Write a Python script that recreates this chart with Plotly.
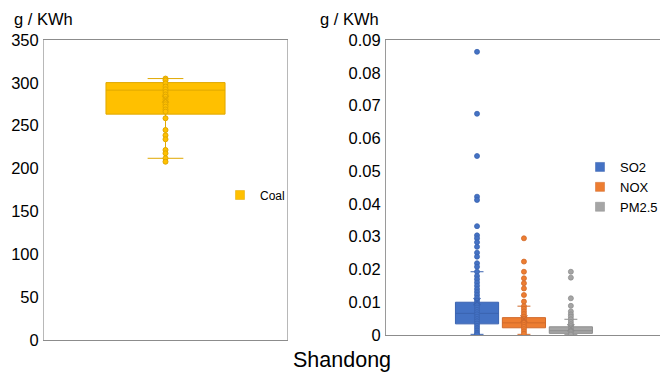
import plotly.graph_objects as go

# ---- Coal (g / KWh) ----
coal_points = [305, 303, 299.5, 295.6, 292.5, 289.4, 286.5, 283.9, 280.8, 277.7,
               275, 272.2, 269, 266.4, 258.7, 245, 238.8, 234.2, 221.7, 217.8, 212, 208]
coal_stats = dict(q1=263.5, median=291.5, q3=300.3, lowerfence=212, upperfence=305, mean=281)

# ---- Pollutants (g / KWh) ----
pollutants = ["SO2", "NOX", "PM2.5"]
so2_points = [0.0864, 0.0675, 0.0546, 0.0422, 0.0412, 0.0332, 0.0304, 0.0295, 0.0283,
              0.0269, 0.0251, 0.0239, 0.0219, 0.0208, 0.0193, 0.0180, 0.0170, 0.0160,
              0.0150, 0.0140, 0.0131, 0.0122, 0.0113, 0.0105, 0.0098, 0.0091, 0.0084,
              0.0077, 0.0070, 0.0063, 0.0056, 0.0049, 0.0042, 0.0035, 0.0028, 0.0021,
              0.0014, 0.0007, 0.0002]
nox_points = [0.0295, 0.0224, 0.0193, 0.0173, 0.0158, 0.0142, 0.0122, 0.0102, 0.0088,
              0.0080, 0.0072, 0.0064, 0.0056, 0.0049, 0.0043, 0.0037, 0.0031, 0.0025,
              0.0018, 0.0011, 0.0004]
pm25_points = [0.0193, 0.0175, 0.0112, 0.0089, 0.0072, 0.0063, 0.0056, 0.0048, 0.0040,
               0.0033, 0.0027, 0.0021, 0.0015, 0.0010, 0.0005, 0.0001]
pollutant_points = [so2_points, nox_points, pm25_points]
q1 = [0.0034, 0.0022, 0.0005]
median = [0.0066, 0.0037, 0.0013]
q3 = [0.0100, 0.0053, 0.0025]
lowerfence = [0.0002, 0.0002, 0.0001]
upperfence = [0.0193, 0.0088, 0.0048]
means = [0.0102, 0.0049, 0.0022]

left_ticks = [0, 50, 100, 150, 200, 250, 300, 350]
right_ticks = [0, 0.01, 0.02, 0.03, 0.04, 0.05, 0.06, 0.07, 0.08, 0.09]
right_ticktext = ["0", "0.01", "0.02", "0.03", "0.04", "0.05", "0.06", "0.07", "0.08", "0.09"]

fills = {"Coal": "#FFC000", "SO2": "#4472C4", "NOX": "#ED7D31", "PM2.5": "#A5A5A5"}
edges = {"Coal": "#E0A800", "SO2": "#3A63B0", "NOX": "#D0692A", "PM2.5": "#8E8E8E"}

FONT = "Liberation Sans, Arial, sans-serif"
fig = go.Figure()

# Coal box, points and mean
fig.add_trace(go.Box(
    x=[0.5], q1=[coal_stats["q1"]], median=[coal_stats["median"]], q3=[coal_stats["q3"]],
    lowerfence=[coal_stats["lowerfence"]], upperfence=[coal_stats["upperfence"]],
    width=0.49, whiskerwidth=0.3, fillcolor=fills["Coal"],
    line=dict(color=edges["Coal"], width=1), showlegend=False, hoverinfo="skip",
    xaxis="x", yaxis="y"))
fig.add_trace(go.Scatter(
    x=[0.5] * len(coal_points), y=coal_points, mode="markers",
    marker=dict(size=5, color=fills["Coal"], line=dict(color=edges["Coal"], width=1)),
    showlegend=False, xaxis="x", yaxis="y"))
fig.add_trace(go.Scatter(
    x=[0.5], y=[coal_stats["mean"]], mode="markers",
    marker=dict(symbol="x-thin-open", size=7, color=edges["Coal"],
                line=dict(color=edges["Coal"], width=1.2)),
    showlegend=False, xaxis="x", yaxis="y"))
fig.add_trace(go.Scatter(
    x=[None], y=[None], mode="markers", name="Coal", legend="legend",
    marker=dict(symbol="square", size=9, color=fills["Coal"],
                line=dict(color=edges["Coal"], width=0.5)),
    xaxis="x", yaxis="y"))

# Pollutant boxes, points and means
for i, name in enumerate(pollutants):
    pos = i + 1
    fig.add_trace(go.Box(
        x=[pos], q1=[q1[i]], median=[median[i]], q3=[q3[i]],
        lowerfence=[lowerfence[i]], upperfence=[upperfence[i]],
        width=0.92, whiskerwidth=0.3, fillcolor=fills[name],
        line=dict(color=edges[name], width=1), showlegend=False, hoverinfo="skip",
        xaxis="x2", yaxis="y2"))
    pts = pollutant_points[i]
    fig.add_trace(go.Scatter(
        x=[pos] * len(pts), y=pts, mode="markers",
        marker=dict(size=5, color=fills[name], line=dict(color=edges[name], width=0.8)),
        showlegend=False, xaxis="x2", yaxis="y2"))
    fig.add_trace(go.Scatter(
        x=[pos], y=[means[i]], mode="markers",
        marker=dict(symbol="x-thin-open", size=7, color=edges[name],
                    line=dict(color=edges[name], width=1.2)),
        showlegend=False, xaxis="x2", yaxis="y2"))
    fig.add_trace(go.Scatter(
        x=[None], y=[None], mode="markers", name=name, legend="legend2",
        marker=dict(symbol="square", size=9, color=fills[name],
                    line=dict(color=edges[name], width=0.5)),
        xaxis="x2", yaxis="y2"))

W, H = 660, 374
tickfont = dict(family=FONT, size=16.5, color="#000000")

fig.update_layout(
    width=W, height=H, margin=dict(l=0, r=0, t=0, b=0, autoexpand=False),
    paper_bgcolor="white", plot_bgcolor="white",
    font=dict(family=FONT, color="#000000"),
    xaxis=dict(domain=[44 / W, 287 / W], range=[0, 1], showticklabels=False,
               showgrid=False, zeroline=False, showline=True, mirror=True,
               linecolor="#8c8c8c", linewidth=1, ticks="", automargin=False),
    yaxis=dict(domain=[34 / H, 334 / H], range=[0, 350], tickvals=left_ticks,
               showgrid=False, zeroline=False, showline=True, mirror=True,
               linecolor="#b8b8b8", linewidth=1, ticks="", tickfont=tickfont,
               ticklabelstandoff=1, automargin=False),
    xaxis2=dict(domain=[386 / W, 1.0], range=[-0.94, 4.9], showticklabels=False,
                showgrid=False, zeroline=False, showline=True, mirror=True,
                linecolor="#8c8c8c", linewidth=1, ticks="", anchor="y2",
                automargin=False),
    yaxis2=dict(domain=[39 / H, 334 / H], range=[0, 0.09], tickvals=right_ticks,
                ticktext=right_ticktext, showgrid=False, zeroline=False,
                showline=True, mirror=False, linecolor="#9a9a9a", linewidth=1,
                ticks="", tickfont=tickfont, ticklabelstandoff=1, anchor="x2",
                automargin=False),
    legend=dict(x=220 / W, y=1 - 195 / H, xanchor="left", yanchor="middle",
                bgcolor="rgba(0,0,0,0)", font=dict(family=FONT, size=12)),
    legend2=dict(x=580 / W, y=1 - 187 / H, xanchor="left", yanchor="middle",
                 bgcolor="rgba(0,0,0,0)", font=dict(family=FONT, size=13)),
    annotations=[
        dict(text="g / KWh", x=12 / W, y=1 - 19 / H, xref="paper", yref="paper",
             xanchor="left", yanchor="middle", showarrow=False,
             font=dict(family=FONT, size=16.5)),
        dict(text="g / KWh", x=318 / W, y=1 - 19 / H, xref="paper", yref="paper",
             xanchor="left", yanchor="middle", showarrow=False,
             font=dict(family=FONT, size=16.5)),
        dict(text="Shandong", x=342 / W, y=1 - 360 / H, xref="paper", yref="paper",
             xanchor="center", yanchor="middle", showarrow=False,
             font=dict(family=FONT, size=21.5)),
    ],
)

fig.write_html("out.html")
